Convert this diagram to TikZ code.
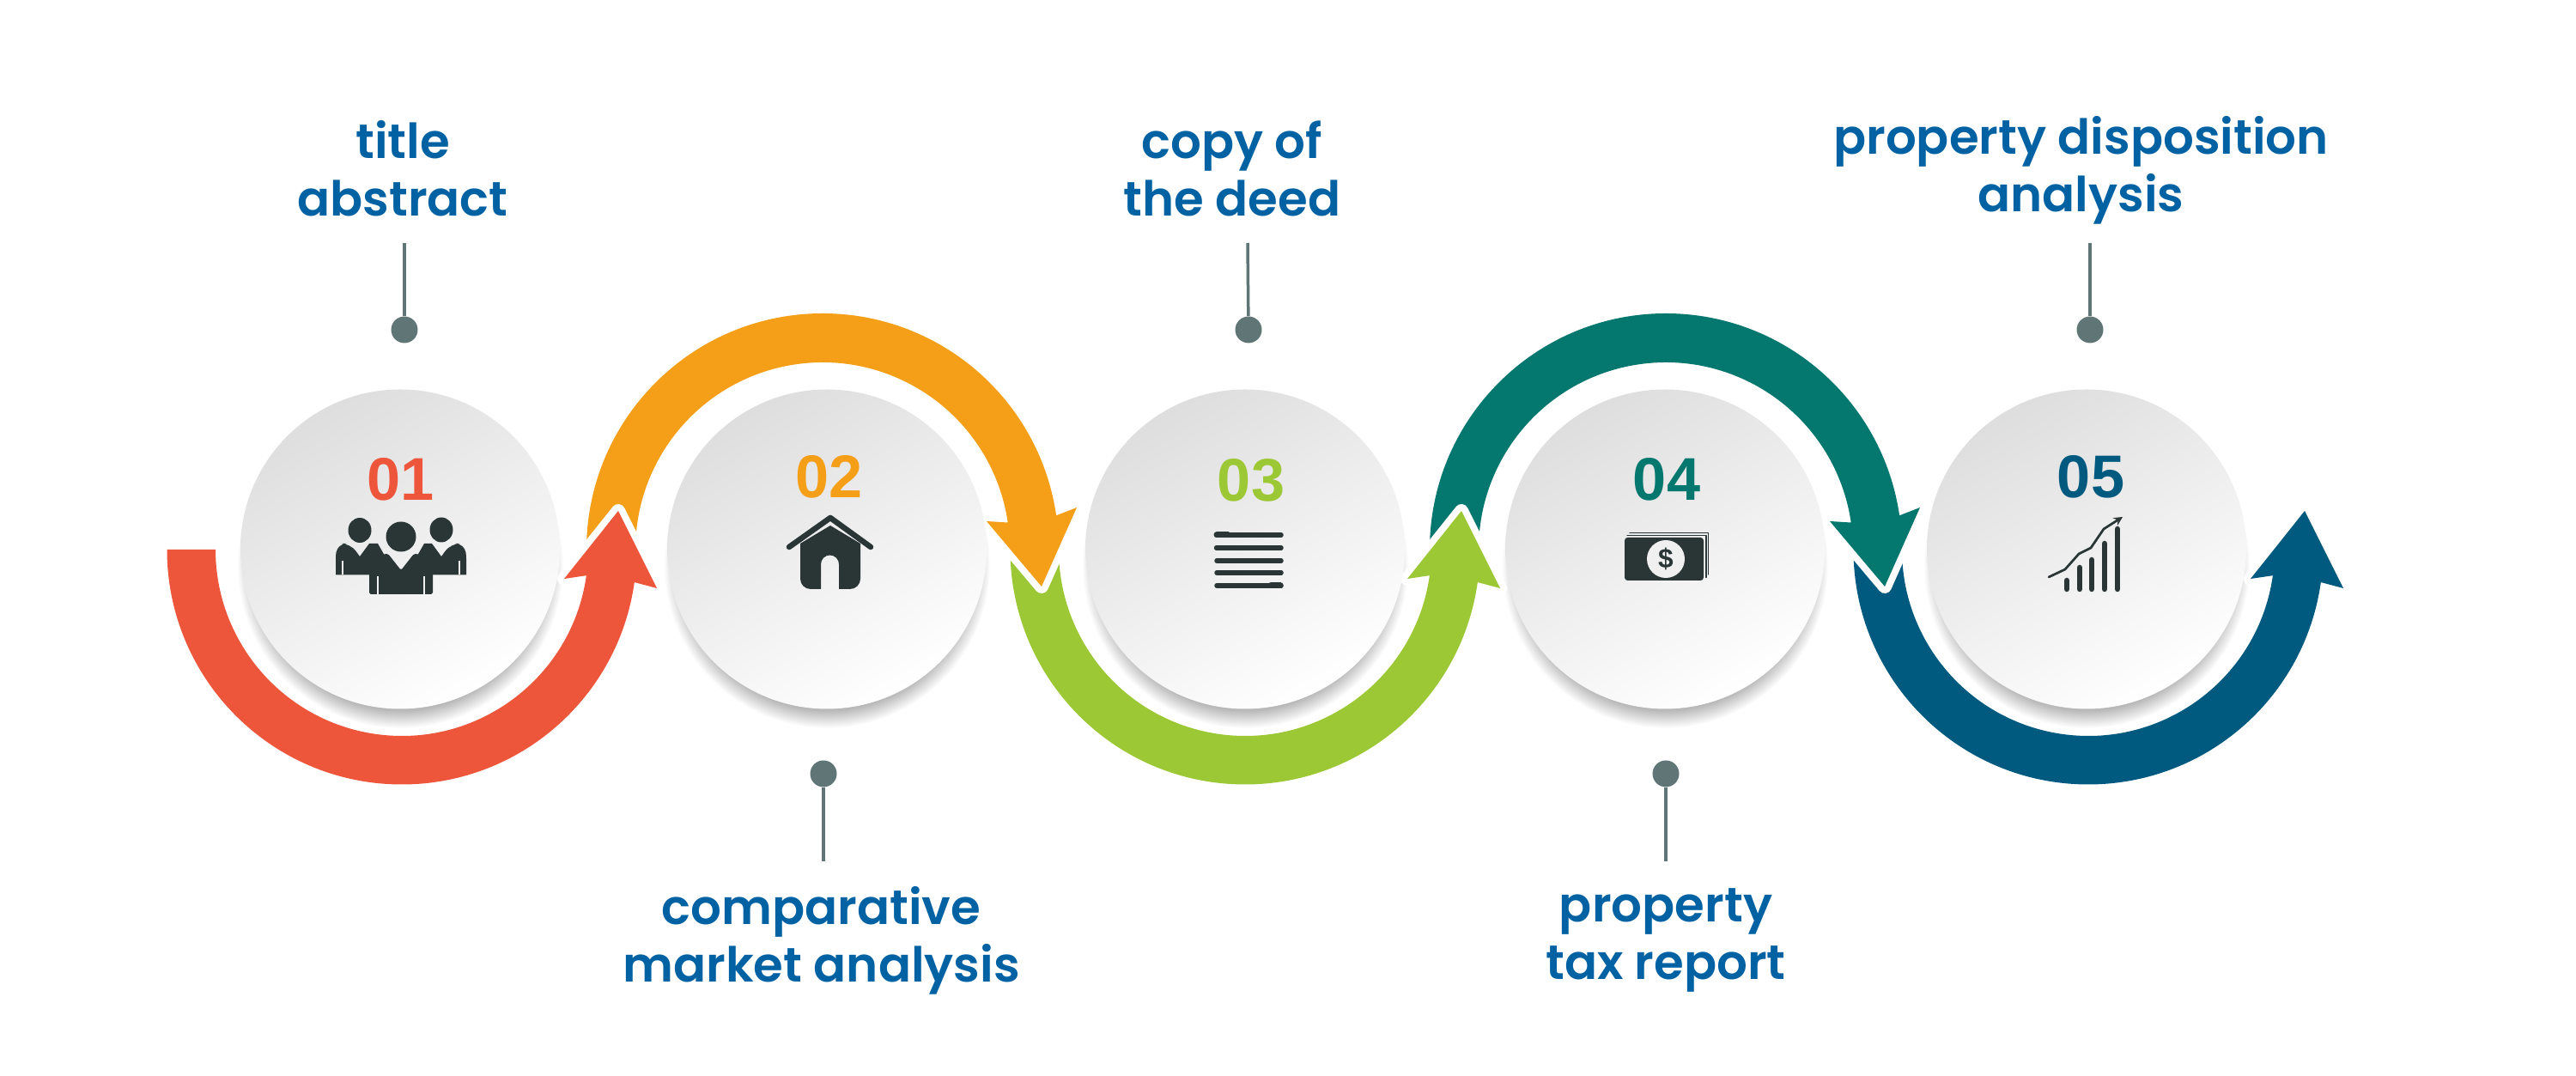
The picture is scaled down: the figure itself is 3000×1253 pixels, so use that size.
\documentclass[tikz,border=0pt]{standalone}
\usepackage{fontspec}
\setmainfont{Poppins}[BoldFont={Poppins SemiBold}]
\newfontfamily\numfont{Liberation Sans}[BoldFont={Liberation Sans Bold}]
\usetikzlibrary{calc}

\definecolor{redband}{HTML}{EE563B}
\definecolor{orangeband}{HTML}{F59E18}
\definecolor{greenband}{HTML}{9DC836}
\definecolor{tealband}{HTML}{04776E}
\definecolor{blueband}{HTML}{005A7F}
\definecolor{labelblue}{HTML}{0061A3}
\definecolor{leadgray}{HTML}{607575}
\definecolor{iconink}{HTML}{2A3535}

\pgfdeclareradialshading{diskshadow}{\pgfpointorigin}{color(0bp)=(black!28); color(22.2bp)=(black!28); color(25bp)=(white); color(50bp)=(white)}

\tikzset{
    disk/.style={circle, minimum size=.02cm*372, inner sep=0pt, shade, top color=black!13, bottom color=white, shading angle=30},
    number/.style={font=\numfont\bfseries\fontsize{40}{40}\selectfont, inner sep=0pt},
    title/.style={font=\bfseries\fontsize{32}{38.1}\selectfont, text=labelblue, align=center, inner sep=0pt},
    dot/.style={circle, fill=leadgray, minimum size=.62cm, inner sep=0pt},
    leader/.style={draw=leadgray, line width=.07cm},
    notch/.style={white, line width=.32cm, line cap=round, line join=round},
    ink/.style={fill=iconink, draw=none},
    inkline/.style={draw=iconink, line cap=round, line join=round},
}

% arrow under a disk: from the left, round the bottom, up on the right
\newcommand{\lowarrow}[2]{
    \draw[notch] ($(#1)+(189,-34)$) -- ($(#1)+(252,45)$) -- ($(#1)+(297,-45)$);
    \fill[#2] ($(#1)+(180:273.5)$) arc[start angle=180, end angle=352, radius=273.5]
        -- ($(#1)+(297,-45)$) -- ($(#1)+(252,45)$) -- ($(#1)+(189,-34)$)
        -- ($(#1)+(352:217)$) arc[start angle=352, end angle=180, radius=217] -- cycle;
}
% arrow over a disk: from the left, over the top, down on the right
\newcommand{\higharrow}[2]{
    \draw[notch] ($(#1)+(191,33)$) -- ($(#1)+(255,-43)$) -- ($(#1)+(296,49)$);
    \fill[#2] ($(#1)+(180:275)$) arc[start angle=180, end angle=8.3, radius=275]
        -- ($(#1)+(296,49)$) -- ($(#1)+(255,-43)$) -- ($(#1)+(191,33)$)
        -- ($(#1)+(8.3:218)$) arc[start angle=8.3, end angle=180, radius=218] -- cycle;
}

\begin{document}
\begin{tikzpicture}[x=.02cm, y=.02cm]

    \path[use as bounding box] (0,0) rectangle (3000,1253);

    % ring centres
    \coordinate (r1) at (468,613);
    \coordinate (r2) at (958,613);
    \coordinate (r3) at (1450,613);
    \coordinate (r4) at (1940,613);
    \coordinate (r5) at (2432,613);

    % shadows under the disks
    \shade[shading=diskshadow] (466,595) circle (190);
    \shade[shading=diskshadow] (963,595) circle (190);
    \shade[shading=diskshadow] (1450,595) circle (190);
    \shade[shading=diskshadow] (1939,595) circle (190);
    \shade[shading=diskshadow] (2430,595) circle (190);

    % each arrow head cuts into the band after it
    \lowarrow{r5}{blueband}
    \higharrow{r4}{tealband}
    \lowarrow{r3}{greenband}
    \higharrow{r2}{orangeband}
    \lowarrow{r1}{redband}

    \node[disk] (d1) at (466,613.5) {};
    \node[disk] (d2) at (963,613.5) {};
    \node[disk] (d3) at (1450,613.5) {};
    \node[disk] (d4) at (1939,613.5) {};
    \node[disk] (d5) at (2430,613.5) {};

    \node[number, text=redband] (n1) at (467,695) {01};
    \node[number, text=orangeband] (n2) at (966,698) {02};
    \node[number, text=greenband] (n3) at (1457,694) {03};
    \node[number, text=tealband] (n4) at (1941,695) {04};
    \node[number, text=blueband] (n5) at (2435,698) {05};

    % people
    \fill[ink] (419,635.5) ellipse (13.5 and 14.5);
    \fill[ink] (514,636) ellipse (13.5 and 14.5);
    \fill[ink] (467,628) circle (17.5);
    \fill[ink, rounded corners=2] (391,583.5) -- (391,606) [rounded corners=6] -- (393,620) -- (408,620) [sharp corners] -- (419,605) -- (430,620) -- (440,620) -- (448,606) -- (448,583.5) -- cycle;
    \fill[ink, rounded corners=2] (543,583.5) -- (543,606) [rounded corners=6] -- (541,620) -- (525,620) [sharp corners] -- (514,605) -- (503,620) -- (494,620) -- (486,606) -- (486,583.5) -- cycle;
    \fill[ink, rounded corners=1] (430,561) -- (430,600) -- (448,608) -- (452,608) -- (467,589) -- (482,608) -- (486,608) -- (504,600) -- (504,561) -- cycle;
    \draw[black!6, line width=.04cm] (399,584) -- (399,600) (535,584) -- (535,600) (440,561) -- (440,582) (494,561) -- (494,582);

    % house
    \draw[inkline, line width=.13cm] (919,616) -- (967,650) -- (1014,616);
    \fill[ink] (956,567) -- (956,596) arc[start angle=180, end angle=0, radius=10.5] -- (977,567) -- (990,567)
        arc[start angle=-90, end angle=0, radius=12] -- (1002,620) -- (967,641) -- (932,620) -- (932,579)
        arc[start angle=180, end angle=270, radius=12] -- cycle;

    % text lines
    \draw[inkline, line width=.11cm] (1417,630) -- (1492,630);
    \draw[inkline, line width=.11cm] (1417,615) -- (1492,615);
    \draw[inkline, line width=.11cm] (1417,600) -- (1492,600);
    \draw[inkline, line width=.11cm] (1417,586) -- (1492,586);
    \draw[inkline, line width=.11cm] (1417,571) -- (1492,571);
    \draw[inkline, line width=.14cm] (1417,630) -- (1430,630);
    \draw[inkline, line width=.13cm] (1417,615) -- (1444,615);
    \draw[inkline, line width=.13cm] (1476,586) -- (1491,586);
    \draw[inkline, line width=.14cm] (1480,571) -- (1491,571);

    % banknotes
    \draw[inkline, line width=.03cm] (1898,632.5) -- (1989.5,632.5) -- (1989.5,584);
    \draw[inkline, line width=.03cm] (1895,629.5) -- (1987,629.5) -- (1987,580.5);
    \fill[ink, rounded corners=2] (1892,577) rectangle (1984,627);
    \node[circle, fill=black!6, minimum size=.88cm, inner sep=0pt, text=iconink, font=\numfont\bfseries\fontsize{18}{18}\selectfont] (coin) at (1940,602) {\$};

    % chart
    \draw[inkline, line width=.13cm] (2407,567) -- (2407,577);
    \draw[inkline, line width=.13cm] (2422,567) -- (2422,592);
    \draw[inkline, line width=.13cm] (2436,567) -- (2436,601);
    \draw[inkline, line width=.13cm] (2451,567) -- (2451,620);
    \draw[inkline, line width=.13cm] (2466,567) -- (2466,637);
    \draw[inkline, line width=.055cm, -stealth] (2386,581) -- (2405,590) -- (2421,608) -- (2435,615) -- (2450,637) -- (2472,651);

    % labels and their leaders
    \node[title] (t1) at (469,1057) {title\\abstract};
    \node[title] (t2) at (956.5,158) {comparative\\market analysis};
    \node[title] (t3) at (1435,1057) {copy of\\the deed};
    \node[title] (t4) at (1940,158) {property\\tax report};
    \node[title] (t5) at (2423.5,1055) {property disposition\\analysis};

    \node[dot] (p1) at (471,869) {};
    \node[dot] (p2) at (959,352) {};
    \node[dot] (p3) at (1454,869) {};
    \node[dot] (p4) at (1940,352) {};
    \node[dot] (p5) at (2434,869) {};

    \coordinate (e1) at (471,970);
    \coordinate (e2) at (959,250);
    \coordinate (e3) at (1453,970);
    \coordinate (e4) at (1940,250);
    \coordinate (e5) at (2434,970);

    \draw[leader] (p1) -- (e1);
    \draw[leader] (p2) -- (e2);
    \draw[leader] (p3) -- (e3);
    \draw[leader] (p4) -- (e4);
    \draw[leader] (p5) -- (e5);

\end{tikzpicture}
\end{document}
